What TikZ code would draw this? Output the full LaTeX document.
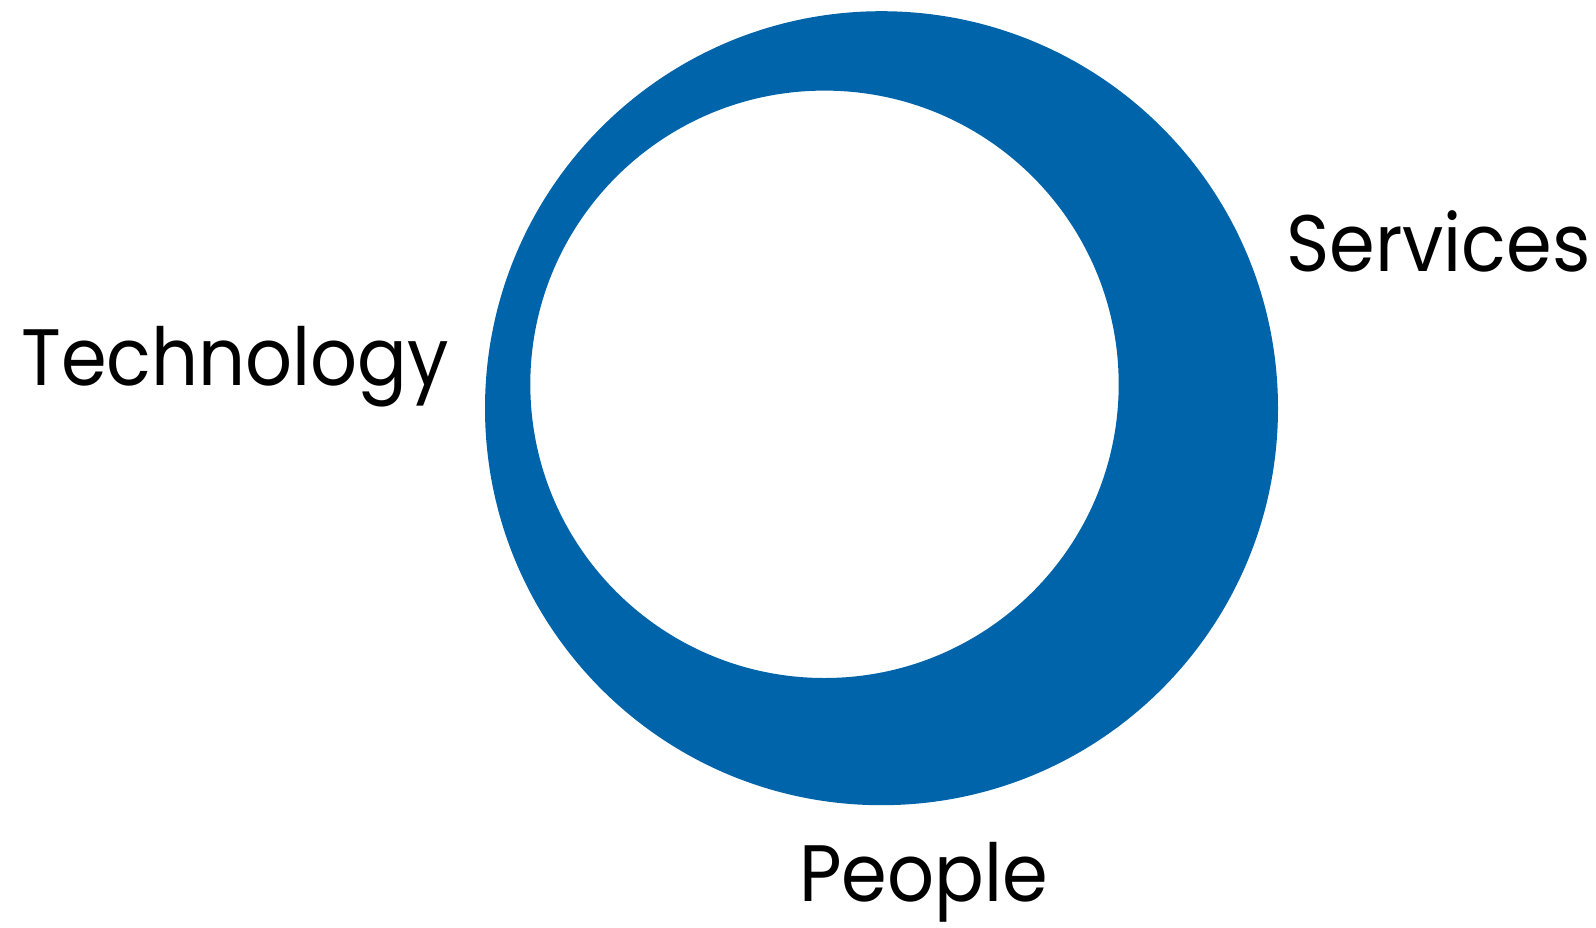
\documentclass[tikz,border=0pt]{standalone}
\usepackage{fontspec}
\setmainfont{Poppins}[FakeStretch=0.92]
\usetikzlibrary{positioning}
\definecolor{ringblue}{HTML}{0064AA}
\tikzset{
  lbl/.style={font=\fontsize{80}{92}\selectfont, inner sep=0pt, anchor=base west, text=black},
  ring/.style={fill=ringblue, even odd rule}
}
\begin{document}
\begin{tikzpicture}[x=1pt,y=-1pt]
  \useasboundingbox (0,0) rectangle (1596,927);

  % ring
  \fill[ring] (881.5,408.2) ellipse[x radius=396.5, y radius=397]
              (824.5,384.3) ellipse[x radius=294.2, y radius=293.7];

  % labels
  \node[lbl] (tech) at (21,385) {Technology};
  \node[lbl] (serv) at (1286,271) {Services};
  \node[lbl] (peop) at (799,901) {People};
\end{tikzpicture}
\end{document}
